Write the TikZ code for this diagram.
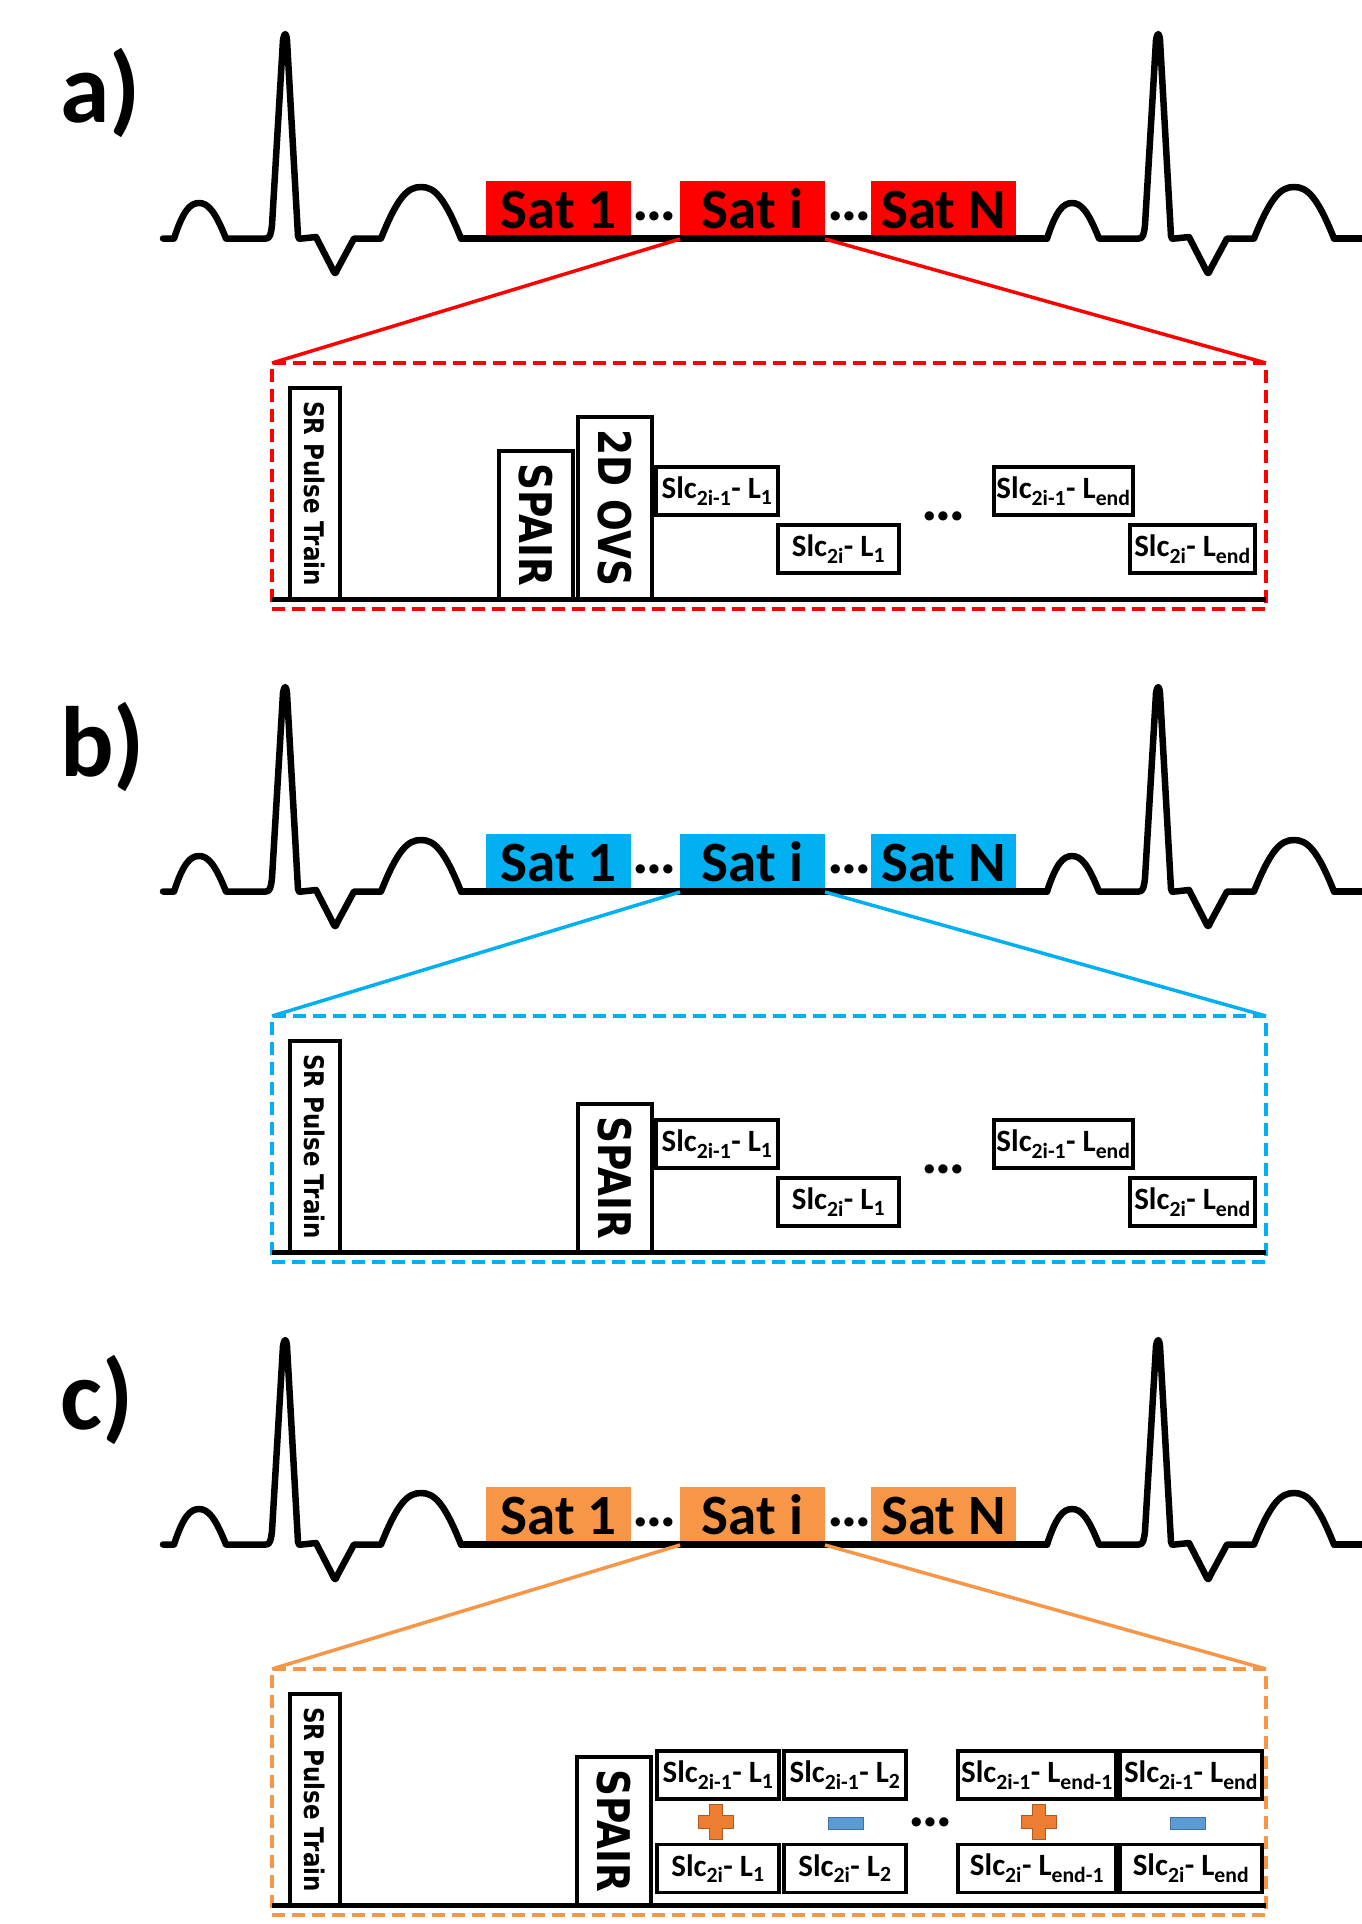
\documentclass[tikz,border=0pt]{standalone}
\usepackage{fontspec}
\setmainfont{Carlito}
\newfontfamily\boxfont{DejaVu Sans}
\usetikzlibrary{positioning}
\definecolor{satred}{HTML}{FF0000}
\definecolor{satblue}{HTML}{00B0F0}
\definecolor{satorange}{HTML}{F79646}
\definecolor{plusorange}{HTML}{ED7D31}
\definecolor{plusedge}{HTML}{AE5A21}
\definecolor{minusblue}{HTML}{5B9BD5}
\definecolor{minusedge}{HTML}{41719C}

\begin{document}
\begin{tikzpicture}[
    x=1pt, y=-1pt,
    ecg/.style={line width=6.5pt, line cap=round, line join=round},
    seq/.style={line width=5pt},
    sat/.style={minimum width=145pt, minimum height=58pt, inner sep=0pt, outer sep=0pt, text height=37pt, text depth=0pt, font=\fontsize{57pt}{60pt}\selectfont\bfseries},
    dotsnode/.style={inner sep=0pt, font=\fontsize{62pt}{64pt}\selectfont\bfseries},
    lab/.style={inner sep=0pt, anchor=base west, font=\fontsize{100pt}{104pt}\selectfont\bfseries},
    zoombox/.style={draw, line width=3.5pt, dash pattern=on 13pt off 7pt, minimum width=994pt, minimum height=246pt, inner sep=0pt, outer sep=0pt},
    zoomline/.style={line width=3.5pt},
    pulse/.style={draw, line width=3.5pt, rotate=-90, inner sep=0pt, minimum height=50pt, font=\boxfont\fontsize{27pt}{29pt}\selectfont\bfseries},
    prep/.style={draw, line width=3.5pt, rotate=-90, inner sep=0pt, minimum height=74pt, font=\boxfont\fontsize{45pt}{48pt}\selectfont\bfseries},
    slc/.style={draw, line width=3.5pt, inner sep=0pt, minimum height=48pt, font=\fontsize{31pt}{34pt}\selectfont\bfseries},
    minussign/.style={draw=minusedge, fill=minusblue, line width=1pt, minimum width=35pt, minimum height=12pt, inner sep=0pt},
    plussign/.pic={\filldraw[draw=plusedge, fill=plusorange, line width=1pt] (-6.5,-17.5) -- (6.5,-17.5) -- (6.5,-6.5) -- (17.5,-6.5) -- (17.5,6.5) -- (6.5,6.5) -- (6.5,17.5) -- (-6.5,17.5) -- (-6.5,6.5) -- (-17.5,6.5) -- (-17.5,-6.5) -- (-6.5,-6.5) -- cycle;}
]
  \useasboundingbox (0,0) rectangle (1361,1924);

  % three panels: ECG, saturation blocks, zoomed block
  \foreach \l/\col [count=\k from 0] in {a/satred, b/satblue, c/satorange} {
    \begin{scope}[yshift={-653pt*\k}]
      \node[lab] (lab\l) at (60,123) {\l)};
      \foreach \s in {0,873}
        \draw[ecg, xshift=\s pt] (163,238.5) -- (174,238.5)
          .. controls (183,211) and (190,203) .. (199,203)
          .. controls (208,203) and (215,211) .. (226,238.5)
          -- (266,238.5) .. controls (270,238.5) and (271,234) .. (272,225)
          -- (283,40) .. controls (284.5,32) and (286,32) .. (287,40)
          -- (298,236) .. controls (298.5,239) and (299,239) .. (302,238.5)
          -- (316,237) -- (333,270) .. controls (334.5,274) and (336,274) .. (337,270)
          -- (354,238.5) -- (381,238.5)
          .. controls (398,196) and (408,187) .. (421,187)
          .. controls (434,187) and (444,196) .. (461,238.5);
      \node[sat, fill=\col] (sat1\l) at (558.5,210) {Sat 1};
      \node[sat, fill=\col] (sati\l) at (752.5,210) {Sat i};
      \node[sat, fill=\col] (satN\l) at (943.5,210) {Sat N};
      \node[dotsnode] (dl\l) at (655,216) {…};
      \node[dotsnode] (dr\l) at (850,216) {…};
      \draw[ecg] (461,238.5) -- (1047,238.5);
      \draw[ecg] (1334,238.5) -- (1370,238.5);
      \node[zoombox, draw=\col] (zoom\l) at (769,486) {};
      \draw[zoomline, draw=\col] (sati\l.south west) -- (zoom\l.north west);
      \draw[zoomline, draw=\col] (sati\l.south east) -- (zoom\l.north east);
      \node[pulse, minimum width=211pt] (sr\l) at (315,493.5) {\scalebox{0.85}[1]{SR Pulse Train}};
      \draw[seq] ([yshift=10pt]zoom\l.south west) -- ([yshift=10pt]zoom\l.south east);
    \end{scope}
  }

  % a) SPAIR + 2D OVS
  \node[prep, minimum width=148pt] (spaira) at (536,525) {\scalebox{0.83}[1]{SPAIR}};
  \node[prep, minimum width=182pt] (ovsa) at (615,508) {\scalebox{0.83}[1]{2D OVS}};
  \node[slc, minimum width=122pt] (s1a) at (717,491) {Slc\textsubscript{2i-1}- L\textsubscript{1}};
  \node[slc, minimum width=121pt] (s2a) at (838.5,549) {Slc\textsubscript{2i}- L\textsubscript{1}};
  \node[dotsnode] (dsa) at (944,516) {…};
  \node[slc, minimum width=139pt] (s3a) at (1063.5,491) {Slc\textsubscript{2i-1}- L\textsubscript{end}};
  \node[slc, minimum width=125pt] (s4a) at (1192.5,549) {Slc\textsubscript{2i}- L\textsubscript{end}};

  % b) SPAIR only
  \begin{scope}[yshift=-653pt]
    \node[prep, minimum width=148pt] (spairb) at (615,525) {\scalebox{0.83}[1]{SPAIR}};
    \node[slc, minimum width=122pt] (s1b) at (717,491) {Slc\textsubscript{2i-1}- L\textsubscript{1}};
    \node[slc, minimum width=121pt] (s2b) at (838.5,549) {Slc\textsubscript{2i}- L\textsubscript{1}};
    \node[dotsnode] (dsb) at (944,516) {…};
    \node[slc, minimum width=139pt] (s3b) at (1063.5,491) {Slc\textsubscript{2i-1}- L\textsubscript{end}};
    \node[slc, minimum width=125pt] (s4b) at (1192.5,549) {Slc\textsubscript{2i}- L\textsubscript{end}};
  \end{scope}

  % c) SPAIR, paired slices
  \begin{scope}[yshift=-1306pt]
    \node[prep, minimum width=148pt] (spairc) at (614,525) {\scalebox{0.83}[1]{SPAIR}};
    \node[slc, minimum width=122pt] (t1c) at (718,469) {Slc\textsubscript{2i-1}- L\textsubscript{1}};
    \node[slc, minimum width=122pt] (t2c) at (845,469) {Slc\textsubscript{2i-1}- L\textsubscript{2}};
    \node[slc, minimum width=158pt] (t3c) at (1037,469) {Slc\textsubscript{2i-1}- L\textsubscript{end-1}};
    \node[slc, minimum width=142pt] (t4c) at (1191,469) {Slc\textsubscript{2i-1}- L\textsubscript{end}};
    \node[slc, minimum width=122pt] (b1c) at (718,562.5) {Slc\textsubscript{2i}- L\textsubscript{1}};
    \node[slc, minimum width=122pt] (b2c) at (845,562.5) {Slc\textsubscript{2i}- L\textsubscript{2}};
    \node[slc, minimum width=158pt] (b3c) at (1037,562.5) {Slc\textsubscript{2i}- L\textsubscript{end-1}};
    \node[slc, minimum width=142pt] (b4c) at (1191,562.5) {Slc\textsubscript{2i}- L\textsubscript{end}};
    \pic at (716,516) {plussign};
    \node[minussign] (m1c) at (846,517) {};
    \node[dotsnode] (dsc) at (931,516) {…};
    \pic at (1039,516) {plussign};
    \node[minussign] (m2c) at (1188,517) {};
  \end{scope}
\end{tikzpicture}
\end{document}
